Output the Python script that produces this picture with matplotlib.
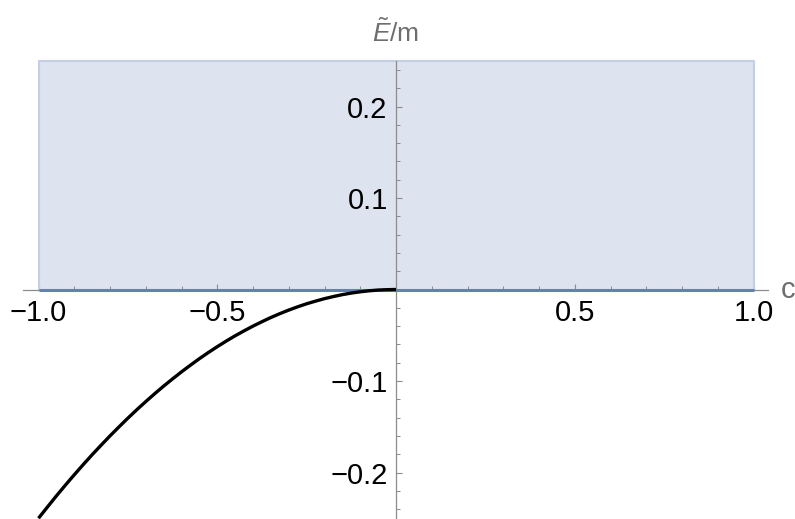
import matplotlib
matplotlib.use("Agg")
import matplotlib.pyplot as plt
from matplotlib.ticker import FixedLocator

plt.rcParams['font.family'] = ['Liberation Sans', 'DejaVu Sans']
plt.rcParams['mathtext.fontset'] = 'custom'
plt.rcParams['mathtext.rm'] = 'Liberation Sans'
plt.rcParams['mathtext.it'] = 'Liberation Sans:italic'

# curve values
curve_x = [-1.0, -0.975, -0.95, -0.925, -0.9, -0.875, -0.85, -0.825, -0.8, -0.775,
           -0.75, -0.725, -0.7, -0.675, -0.65, -0.625, -0.6, -0.575, -0.55, -0.525,
           -0.5, -0.475, -0.45, -0.425, -0.4, -0.375, -0.35, -0.325, -0.3, -0.275,
           -0.25, -0.225, -0.2, -0.175, -0.15, -0.125, -0.1, -0.075, -0.05, -0.025, 0.0]
curve_y = [-0.250, -0.2377, -0.2256, -0.2139, -0.2025, -0.1914, -0.1806, -0.1702, -0.1600, -0.1502,
           -0.1406, -0.1314, -0.1225, -0.1139, -0.1056, -0.0977, -0.0900, -0.0827, -0.0756, -0.0689,
           -0.0625, -0.0564, -0.0506, -0.0452, -0.0400, -0.0352, -0.0306, -0.0264, -0.0225, -0.0189,
           -0.0156, -0.0127, -0.0100, -0.0077, -0.0056, -0.0039, -0.0025, -0.0014, -0.0006, -0.0002, 0.0]

# shaded band
band_x = [-1.0, 1.0]
band_low = [0.0, 0.0]
band_high = [0.25, 0.25]

x_major = [-1.0, -0.5, 0.5, 1.0]
x_labels = ["\u22121.0", "\u22120.5", "0.5", "1.0"]
y_major = [-0.2, -0.1, 0.1, 0.2]
y_labels = ["\u22120.2", "\u22120.1", "0.1", "0.2"]

W, H = 795, 519
fig = plt.figure(figsize=(W / 100, H / 100), dpi=100)
ax = fig.add_axes([0, 0, 1, 1])
x0px, sx = 396.0, 357.5
y0px, sy = 289.5, 915.0
ax.set_xlim(-x0px / sx, (W - x0px) / sx)
ax.set_ylim(-(H - y0px) / sy, y0px / sy)
ax.patch.set_alpha(0)

fill_col = '#dde3ef'
edge_col = '#c3cfe3'
ax.fill_between(band_x, band_low, band_high, color=fill_col, lw=0, zorder=1)
ax.plot([band_x[0], band_x[0], band_x[1], band_x[1]],
        [band_low[0], band_high[0], band_high[1], band_low[1]],
        color=edge_col, lw=1.5, zorder=2)
ax.plot(band_x, band_low, color='#6482ad', lw=2.2, zorder=4, solid_capstyle='butt')
ax.plot(curve_x, curve_y, color='black', lw=2.4, zorder=5, solid_capstyle='butt',
        solid_joinstyle='round')

for s in ['top', 'right']:
    ax.spines[s].set_visible(False)
ax.spines['left'].set_position(('data', 0))
ax.spines['bottom'].set_position(('data', 0))
ax.spines['left'].set_bounds(-(H - y0px) / sy, 0.2497)
ax.spines['bottom'].set_bounds(-1.043, 1.04)
for s in ['left', 'bottom']:
    ax.spines[s].set_color('#8c8c8c')
    ax.spines[s].set_linewidth(0.9)
    ax.spines[s].set_zorder(3)

ax.xaxis.set_major_locator(FixedLocator(x_major))
ax.set_xticklabels(x_labels)
ax.xaxis.set_minor_locator(FixedLocator([i / 10 for i in range(-10, 11) if i % 5 != 0]))
ax.yaxis.set_major_locator(FixedLocator(y_major))
ax.set_yticklabels(y_labels)
ax.yaxis.set_minor_locator(FixedLocator([i / 50 for i in range(-12, 13) if i % 5 != 0]))

ax.tick_params(which='both', direction='in', colors='#8c8c8c', labelcolor='black',
               labelsize=21)
ax.tick_params(which='major', length=4.5, width=0.8)
ax.tick_params(which='minor', length=2.8, width=0.7)
ax.tick_params(axis='x', pad=7)
ax.tick_params(axis='y', pad=6)

ax.text(0.0, 0.281, r"$\tilde{\mathit{E}}\mathrm{/m}$", color='#6e6e6e', fontsize=19,
        ha='center', va='center')
ax.text(1.077, 0.0, "c", color='#6e6e6e', fontsize=21, ha='left', va='center')

fig.savefig("out.png", dpi=100)
